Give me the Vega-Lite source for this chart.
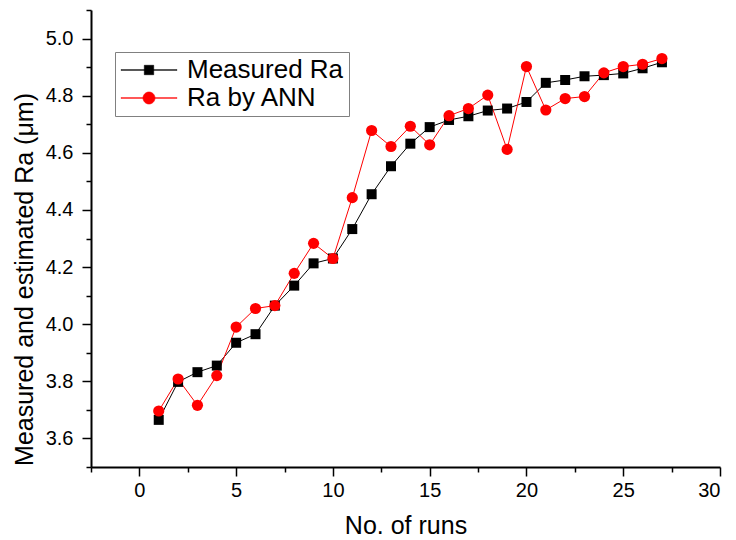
{
  "$schema": "https://vega.github.io/schema/vega-lite/v6.json",
  "width": 629,
  "height": 457,
  "autosize": {"type": "none"},
  "padding": {"left": 91, "top": 10, "right": 16, "bottom": 73},
  "background": "white",
  "config": {
    "view": {"stroke": null},
    "font": "Liberation Sans",
    "axis": {
      "grid": false,
      "domainColor": "black",
      "tickColor": "black",
      "labelColor": "black",
      "titleColor": "black",
      "labelFont": "Liberation Sans",
      "titleFont": "Liberation Sans",
      "titleFontWeight": "normal"
    }
  },
  "data": {
    "values": [
      {"run": 1, "series": "Measured Ra", "ra": 3.665},
      {"run": 2, "series": "Measured Ra", "ra": 3.798},
      {"run": 3, "series": "Measured Ra", "ra": 3.832},
      {"run": 4, "series": "Measured Ra", "ra": 3.855},
      {"run": 5, "series": "Measured Ra", "ra": 3.935},
      {"run": 6, "series": "Measured Ra", "ra": 3.965},
      {"run": 7, "series": "Measured Ra", "ra": 4.065},
      {"run": 8, "series": "Measured Ra", "ra": 4.135},
      {"run": 9, "series": "Measured Ra", "ra": 4.213},
      {"run": 10, "series": "Measured Ra", "ra": 4.23},
      {"run": 11, "series": "Measured Ra", "ra": 4.333},
      {"run": 12, "series": "Measured Ra", "ra": 4.455},
      {"run": 13, "series": "Measured Ra", "ra": 4.553},
      {"run": 14, "series": "Measured Ra", "ra": 4.632},
      {"run": 15, "series": "Measured Ra", "ra": 4.69},
      {"run": 16, "series": "Measured Ra", "ra": 4.715},
      {"run": 17, "series": "Measured Ra", "ra": 4.728},
      {"run": 18, "series": "Measured Ra", "ra": 4.748},
      {"run": 19, "series": "Measured Ra", "ra": 4.755},
      {"run": 20, "series": "Measured Ra", "ra": 4.778},
      {"run": 21, "series": "Measured Ra", "ra": 4.845},
      {"run": 22, "series": "Measured Ra", "ra": 4.855},
      {"run": 23, "series": "Measured Ra", "ra": 4.868},
      {"run": 24, "series": "Measured Ra", "ra": 4.872},
      {"run": 25, "series": "Measured Ra", "ra": 4.878},
      {"run": 26, "series": "Measured Ra", "ra": 4.896},
      {"run": 27, "series": "Measured Ra", "ra": 4.917},
      {"run": 1, "series": "Ra by ANN", "ra": 3.696},
      {"run": 2, "series": "Ra by ANN", "ra": 3.808},
      {"run": 3, "series": "Ra by ANN", "ra": 3.716},
      {"run": 4, "series": "Ra by ANN", "ra": 3.82},
      {"run": 5, "series": "Ra by ANN", "ra": 3.99},
      {"run": 6, "series": "Ra by ANN", "ra": 4.055},
      {"run": 7, "series": "Ra by ANN", "ra": 4.065},
      {"run": 8, "series": "Ra by ANN", "ra": 4.178},
      {"run": 9, "series": "Ra by ANN", "ra": 4.283},
      {"run": 10, "series": "Ra by ANN", "ra": 4.23},
      {"run": 11, "series": "Ra by ANN", "ra": 4.443},
      {"run": 12, "series": "Ra by ANN", "ra": 4.678},
      {"run": 13, "series": "Ra by ANN", "ra": 4.622},
      {"run": 14, "series": "Ra by ANN", "ra": 4.693},
      {"run": 15, "series": "Ra by ANN", "ra": 4.628},
      {"run": 16, "series": "Ra by ANN", "ra": 4.73},
      {"run": 17, "series": "Ra by ANN", "ra": 4.755},
      {"run": 18, "series": "Ra by ANN", "ra": 4.802},
      {"run": 19, "series": "Ra by ANN", "ra": 4.612},
      {"run": 20, "series": "Ra by ANN", "ra": 4.902},
      {"run": 21, "series": "Ra by ANN", "ra": 4.75},
      {"run": 22, "series": "Ra by ANN", "ra": 4.79},
      {"run": 23, "series": "Ra by ANN", "ra": 4.797},
      {"run": 24, "series": "Ra by ANN", "ra": 4.88},
      {"run": 25, "series": "Ra by ANN", "ra": 4.902},
      {"run": 26, "series": "Ra by ANN", "ra": 4.91},
      {"run": 27, "series": "Ra by ANN", "ra": 4.93}
    ]
  },
  "resolve": {"axis": {"x": "independent", "y": "independent"}},
  "layer": [
    {
      "mark": {"type": "line", "strokeWidth": 1},
      "encoding": {
        "x": {
          "field": "run", "type": "quantitative",
          "scale": {"domain": [-2.5, 30], "nice": false, "zero": false},
          "axis": {
            "orient": "bottom",
            "values": [-2.5, 2.5, 7.5, 12.5, 17.5, 22.5, 27.5],
            "labels": false, "domain": false, "tickSize": 5, "tickWidth": 1.5, "title": null
          }
        },
        "y": {
          "field": "ra", "type": "quantitative",
          "scale": {"domain": [3.5, 5.1], "nice": false, "zero": false},
          "axis": {
            "orient": "left",
            "values": [3.5, 3.7, 3.9, 4.1, 4.3, 4.5, 4.7, 4.9, 5.1],
            "labels": false, "domain": false, "tickSize": 5, "tickWidth": 1.5, "title": null
          }
        },
        "color": {
          "field": "series", "type": "nominal",
          "scale": {"domain": ["Measured Ra", "Ra by ANN"], "range": ["black", "#ff0000"]},
          "legend": {
            "orient": "none",
            "legendX": 24,
            "legendY": 42,
            "title": null,
            "padding": 5,
            "strokeColor": "#808080",
            "labelFont": "Liberation Sans",
            "labelFontSize": 26,
            "labelColor": "black",
            "symbolSize": 400,
            "symbolOffset": 16,
            "labelOffset": 25,
            "rowPadding": 2,
            "symbolStrokeWidth": 0.6,
            "encode": {
              "symbols": {
                "update": {
                  "shape": {"signal": "datum.value == 'Measured Ra' ? 'M-2.8,-0.03H2.8V0.03H-2.8ZM-0.47,-0.47H0.47V0.47H-0.47Z' : 'M-2.8,-0.03H2.8V0.03H-2.8ZM0.6,0A0.6,0.6 0 1,1 -0.6,0A0.6,0.6 0 1,1 0.6,0Z'"},
                  "fill": {"signal": "datum.value == 'Measured Ra' ? 'black' : '#ff0000'"},
                  "stroke": {"signal": "datum.value == 'Measured Ra' ? 'black' : '#ff0000'"}
                }
              }
            }
          }
        }
      }
    },
    {
      "transform": [{"filter": "datum.series == 'Measured Ra'"}],
      "mark": {"type": "point", "filled": true, "opacity": 1, "shape": "square", "size": 100, "color": "black"},
      "encoding": {
        "x": {
          "field": "run", "type": "quantitative",
          "axis": {
            "orient": "bottom",
            "values": [0, 5, 10, 15, 20, 25, 30],
            "tickSize": 9, "tickWidth": 1.5, "domainWidth": 2,
            "labelFontSize": 20, "labelPadding": 4,
            "title": "No. of runs", "titleFontSize": 25,
            "titleY": 66, "titleBaseline": "alphabetic"
          }
        },
        "y": {
          "field": "ra", "type": "quantitative",
          "axis": {
            "orient": "left",
            "values": [3.6, 3.8, 4.0, 4.2, 4.4, 4.6, 4.8, 5.0],
            "format": ".1f",
            "tickSize": 9, "tickWidth": 1.5, "domainWidth": 2,
            "labelFontSize": 20, "labelPadding": 9,
            "title": "Measured and estimated Ra (μm)", "titleFontSize": 25,
            "titleX": -59, "titleY": 269, "titleBaseline": "alphabetic", "titleAlign": "center", "titleAngle": -90
          }
        }
      }
    },
    {
      "transform": [{"filter": "datum.series == 'Ra by ANN'"}],
      "mark": {"type": "point", "filled": true, "opacity": 1, "shape": "circle", "size": 125, "color": "#ff0000"},
      "encoding": {
        "x": {"field": "run", "type": "quantitative", "axis": null},
        "y": {"field": "ra", "type": "quantitative", "axis": null}
      }
    }
  ]
}
